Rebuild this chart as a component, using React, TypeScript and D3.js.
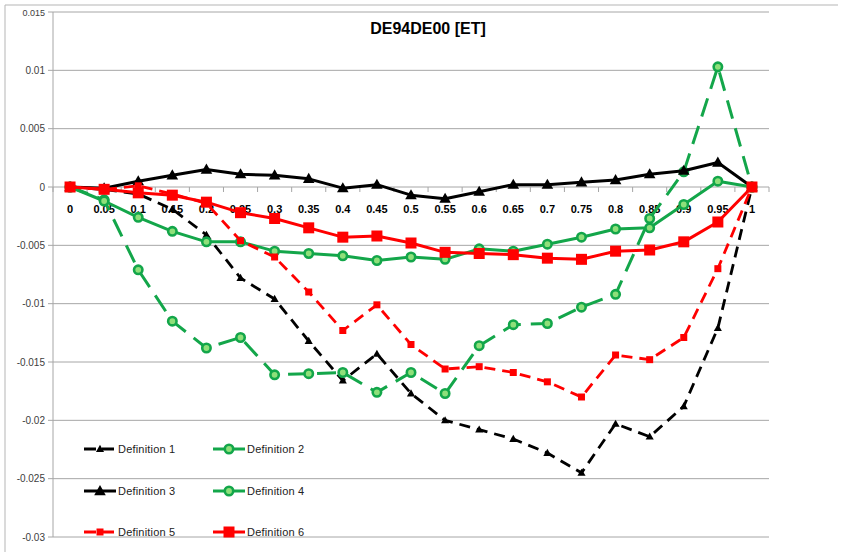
import React from "react";
import * as d3 from "d3";

const categories = ["0","0.05","0.1","0.15","0.2","0.25","0.3","0.35","0.4","0.45","0.5","0.55","0.6","0.65","0.7","0.75","0.8","0.85","0.9","0.95","1"];
const yTicks = [0.015, 0.01, 0.005, 0, -0.005, -0.01, -0.015, -0.02, -0.025, -0.03];
const yTickLabels = ["0.015","0.01","0.005","0","-0.005","-0.01","-0.015","-0.02","-0.025","-0.03"];

const def1 = [0, -0.0002, -0.0006, -0.0019, -0.0041, -0.0078, -0.0096, -0.0132, -0.0166, -0.0143, -0.0177, -0.0200, -0.0208, -0.0216, -0.0228, -0.0245, -0.0203, -0.0214, -0.0188, -0.0121, 0];
const def2 = [0, -0.0011, -0.0071, -0.0115, -0.0138, -0.0129, -0.0161, -0.0160, -0.0159, -0.0176, -0.0159, -0.0177, -0.0136, -0.0118, -0.0117, -0.0103, -0.0092, -0.0027, 0.0013, 0.0103, 0];
const def3 = [0, -0.0001, 0.0005, 0.0010, 0.0015, 0.0011, 0.0010, 0.0007, -0.0001, 0.0002, -0.0007, -0.0010, -0.0004, 0.0002, 0.0002, 0.0004, 0.0006, 0.0011, 0.0014, 0.0021, 0];
const def4 = [0, -0.0012, -0.0026, -0.0038, -0.0047, -0.0047, -0.0055, -0.0057, -0.0059, -0.0063, -0.0060, -0.0062, -0.0053, -0.0055, -0.0049, -0.0043, -0.0036, -0.0035, -0.0015, 0.0005, 0];
const def5 = [0, -0.0002, 0.0001, -0.0006, -0.0014, -0.0046, -0.0060, -0.0090, -0.0123, -0.0101, -0.0135, -0.0156, -0.0154, -0.0159, -0.0167, -0.0180, -0.0144, -0.0148, -0.0129, -0.0070, 0];
const def6 = [0, -0.0002, -0.0005, -0.0007, -0.0013, -0.0022, -0.0027, -0.0035, -0.0043, -0.0042, -0.0048, -0.0056, -0.0057, -0.0058, -0.0061, -0.0062, -0.0055, -0.0054, -0.0047, -0.0030, 0];

const seriesNames = ["Definition 1","Definition 2","Definition 3","Definition 4","Definition 5","Definition 6"];

const BLACK = "#000000";
const GREEN = "#13a64a";
const GREEN_LIGHT = "#8fe07a";
const RED = "#ff0000";

type Style = { color: string; dash: string | null; width: number; marker: "tri" | "circle" | "square"; size: number };
const styles: Style[] = [
  { color: BLACK, dash: "11,7", width: 2.8, marker: "tri", size: 7 },
  { color: GREEN, dash: "19,10", width: 3, marker: "circle", size: 4.2 },
  { color: BLACK, dash: null, width: 3, marker: "tri", size: 10 },
  { color: GREEN, dash: null, width: 3, marker: "circle", size: 4.2 },
  { color: RED, dash: "11,7", width: 2.8, marker: "square", size: 7 },
  { color: RED, dash: null, width: 3, marker: "square", size: 11 },
];
const seriesData = [def1, def2, def3, def4, def5, def6];

function Marker({ s, x, y }: { s: Style; x: number; y: number }) {
  if (s.marker === "tri") {
    const h = s.size;
    const p = `${x},${y - h * 0.6} ${x - h * 0.58},${y + h * 0.42} ${x + h * 0.58},${y + h * 0.42}`;
    return <polygon points={p} fill={s.color} />;
  }
  if (s.marker === "circle") {
    return <circle cx={x} cy={y} r={s.size} fill={GREEN_LIGHT} stroke={s.color} strokeWidth={2.6} />;
  }
  return <rect x={x - s.size / 2} y={y - s.size / 2} width={s.size} height={s.size} fill={s.color} />;
}

export default function App() {
  const W = 841, H = 554;
  const left = 53, right = 769, top = 12, bottom = 537;
  const x = d3.scalePoint<string>().domain(categories).range([left, right]).padding(0.5);
  const y = d3.scaleLinear().domain([-0.03, 0.015]).range([bottom, top]);
  const step = x.step();
  const line = d3.line<number>().x((_, i) => x(categories[i]) as number).y((d) => y(d));
  const y0 = y(0);

  const legendPos = [
    { lx: 84, ty: 449 }, { lx: 213, ty: 449 },
    { lx: 84, ty: 491 }, { lx: 213, ty: 491 },
    { lx: 84, ty: 532 }, { lx: 213, ty: 532 },
  ];

  return (
    <svg width={W} height={H} style={{ position: "absolute", left: 0, top: 0, background: "#fff" }}>
      <line x1={5} y1={5} x2={838} y2={5} stroke="#b5b5b5" />
      <line x1={5} y1={5} x2={5} y2={552} stroke="#b5b5b5" />
      {yTicks.map((t, i) => (
        <g key={i}>
          <line x1={left - 5} x2={right} y1={y(t)} y2={y(t)} stroke="#a6a6a6" strokeWidth={1} />
          <text x={45} y={y(t) + 3.5} textAnchor="end" fontFamily="Liberation Sans, Arial" fontSize={t === 0.015 ? 9 : 10} fill="#404040">{yTickLabels[i]}</text>
        </g>
      ))}
      <line x1={left} x2={left} y1={top} y2={bottom} stroke="#a6a6a6" />
      {d3.range(categories.length + 1).map((k) => (
        <line key={k} x1={left + k * step} x2={left + k * step} y1={y0} y2={y0 + 5} stroke="#a6a6a6" />
      ))}
      <text x={428} y={34} textAnchor="middle" fontFamily="Liberation Sans, Arial" fontWeight="bold" fontSize={16} fill="#000">DE94DE00 [ET]</text>
      {categories.map((c) => (
        <text key={c} x={x(c) as number} y={y0 + 26} textAnchor="middle" fontFamily="Liberation Sans, Arial" fontWeight="bold" fontSize={11} fill="#000">{c}</text>
      ))}
      {seriesData.map((d, si) => {
        const s = styles[si];
        return (
          <g key={si}>
            <path d={line(d) || ""} fill="none" stroke={s.color} strokeWidth={s.width} strokeDasharray={s.dash || undefined} strokeLinejoin="round" />
            {d.map((v, i) => (
              <Marker key={i} s={s} x={x(categories[i]) as number} y={y(v)} />
            ))}
          </g>
        );
      })}
      {seriesNames.map((n, i) => {
        const s = styles[i];
        const p = legendPos[i];
        const cy = p.ty;
        return (
          <g key={n}>
            <line x1={p.lx} x2={p.lx + 32} y1={cy} y2={cy} stroke={s.color} strokeWidth={s.width} strokeDasharray={s.dash ? (s.marker === "circle" ? undefined : "12,6") : undefined} />
            <Marker s={s} x={p.lx + 16} y={cy} />
            <text x={p.lx + 34} y={cy + 4} fontFamily="Liberation Sans, Arial" fontSize={11} fill="#222" letterSpacing={0.2}>{n}</text>
          </g>
        );
      })}
    </svg>
  );
}
